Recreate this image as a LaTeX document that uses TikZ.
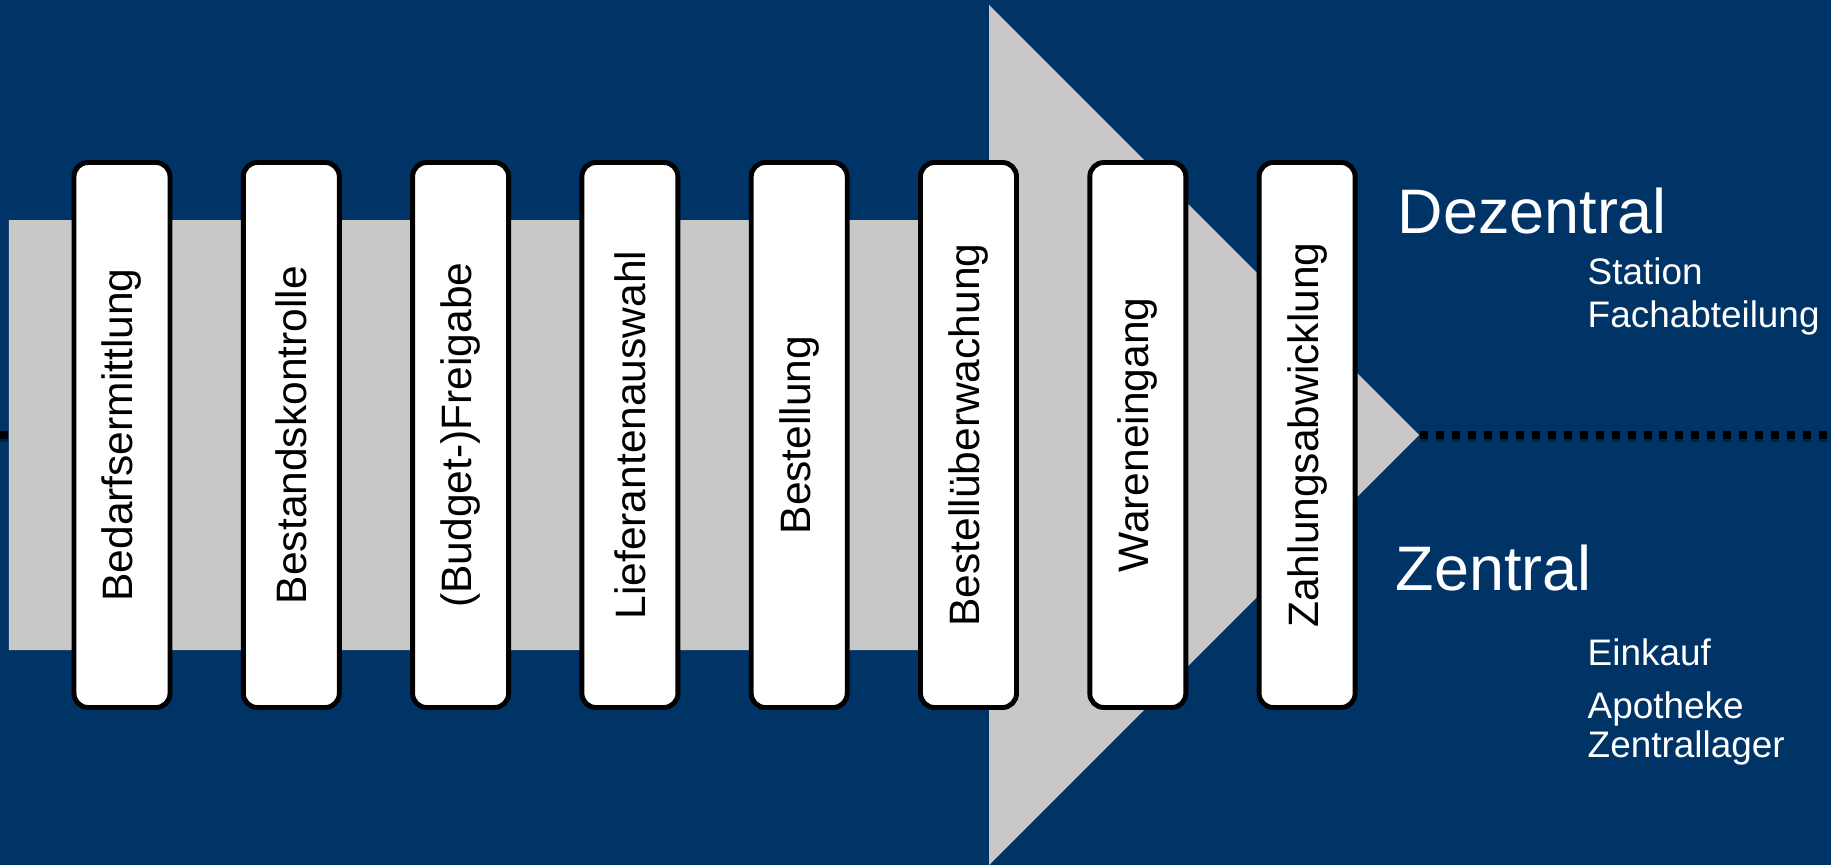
\documentclass[tikz,border=0pt]{standalone}
\usepackage{fontspec}
\setmainfont{Liberation Sans}
\usepackage{tikz}
\usetikzlibrary{positioning, calc}
\usepackage{graphicx}
\usepackage{xcolor}
\definecolor{xnavy}{HTML}{003366}
\definecolor{xgray}{HTML}{C8C8C8}
\tikzset{
	stepbox/.style={
		draw=black, fill=white, line width=1.4pt, rounded corners=4pt,
		minimum width=0.96cm, minimum height=5.45cm, inner sep=0pt,
		font=\fontsize{12.1}{14}\selectfont,
	},
	level/.style={text=white, inner sep=0pt, anchor=base west, font=\fontsize{17.9}{21}\selectfont},
	unit/.style={text=white, inner sep=0pt, anchor=base west, font=\fontsize{10.5}{12}\selectfont},
	divider/.style={line width=2.27pt, dash pattern=on 2.27pt off 2.27pt},
}

\begin{document}
\begin{tikzpicture}
		\useasboundingbox (0,0) rectangle (18.31,8.65);
		\fill[xnavy] (0,0) rectangle (18.31,8.65);

		\coordinate (west) at (0,4.3);
		\coordinate (east) at (18.31,4.3);
		\draw[divider, xnavy!55!black, opacity=0.7, transform canvas={yshift=-0.035cm}] (west) -- (east);
		\draw[divider] (west) -- (east);

		% process arrow
		\fill[xgray] (0.09,2.15) -- (9.89,2.15) -- (9.89,0) -- (14.19,4.3) -- (9.89,8.6) -- (9.89,6.45) -- (0.09,6.45) -- cycle;

		\foreach \lbl [count=\i] in {Bedarfsermittlung, Bestandskontrolle, (Budget-)Freigabe, Lieferantenauswahl, Bestellung, Bestellüberwachung, Wareneingang, Zahlungsabwicklung}
			\node[stepbox] (s\i) at ({1.22+1.693*(\i-1)},4.3) {\rotatebox{90}{\lbl}};

		\node[level] (dez) at (13.97,6.315) {Dezentral};
		\node[unit] (station) at (15.87,5.81) {Station};
		\node[unit] (fach) at (15.87,5.38) {Fachabteilung};

		\node[level] (zen) at (13.95,2.75) {Zentral};
		\node[unit] (einkauf) at (15.87,1.994) {Einkauf};
		\node[unit] (apo) at (15.87,1.47) {Apotheke};
		\node[unit] (lager) at (15.87,1.08) {Zentrallager};
	\end{tikzpicture}
\end{document}
